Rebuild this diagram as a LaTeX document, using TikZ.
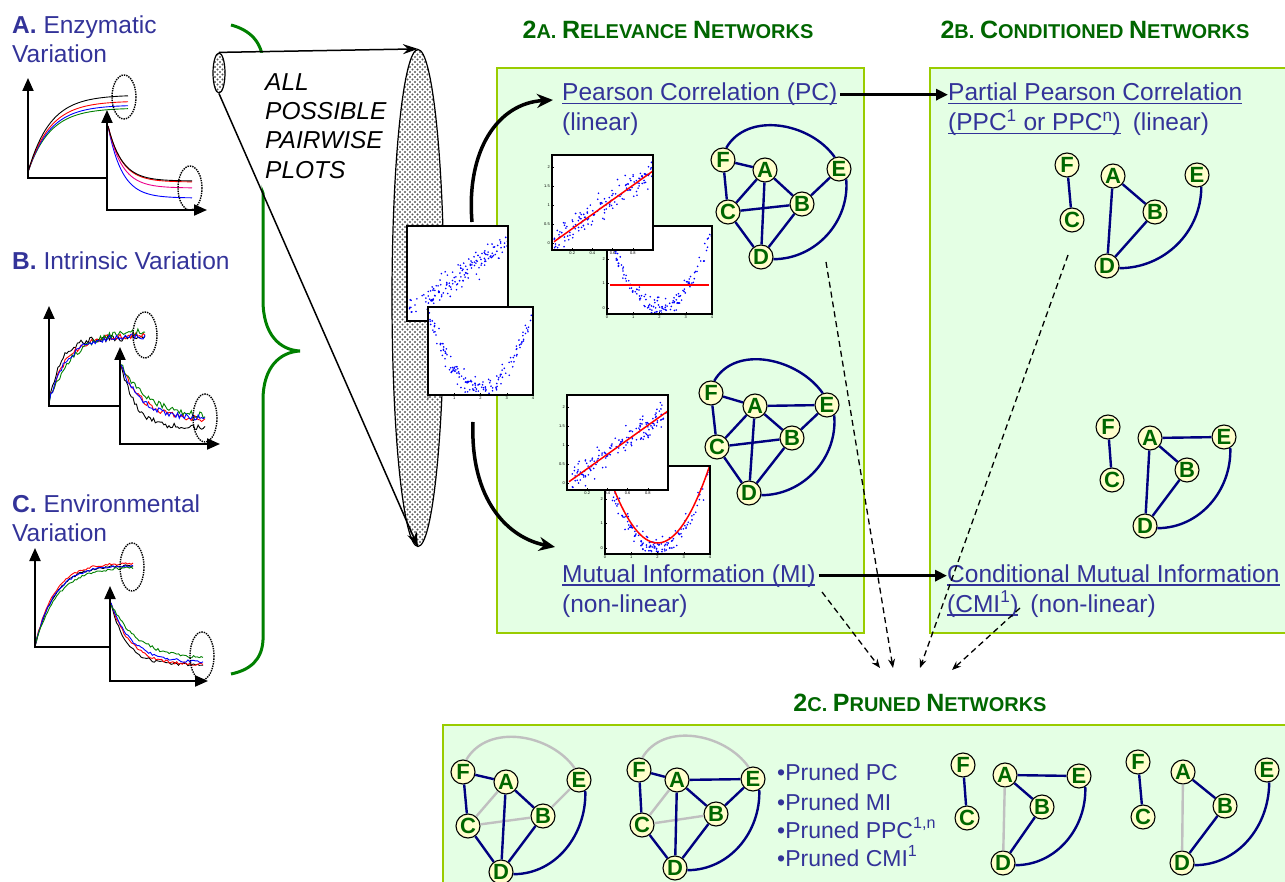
\documentclass[tikz,border=0pt]{standalone}
\usepackage{fontspec}
\setmainfont{Liberation Sans}
\usetikzlibrary{arrows.meta,patterns,shapes.geometric}
\definecolor{txtblue}{RGB}{51,51,153}
\definecolor{ttlgreen}{RGB}{0,102,0}
\definecolor{panelfill}{RGB}{228,255,228}
\definecolor{panelline}{RGB}{153,204,0}
\definecolor{nodefill}{RGB}{255,255,204}
\definecolor{edgeblue}{RGB}{0,0,128}
\definecolor{grayedge}{RGB}{192,192,192}
\definecolor{dotblue}{RGB}{0,0,255}
\definecolor{cgreen}{RGB}{0,128,0}
\pgfdeclarepatternformonly{bigdots}{\pgfqpoint{-1.5pt}{-1.5pt}}{\pgfqpoint{4pt}{4pt}}{\pgfqpoint{5pt}{5pt}}{\pgfpathcircle{\pgfqpoint{0pt}{0pt}}{1.2pt}\pgfpathcircle{\pgfqpoint{2.5pt}{2.5pt}}{1.2pt}\pgfusepath{fill}}
\newcommand\fsz[1]{\fontsize{#1}{#1}\selectfont}
\newsavebox\ulbox
\newcommand\ul[1]{\sbox\ulbox{#1}\rlap{\rule[-3.5pt]{\wd\ulbox}{1.5pt}}\usebox\ulbox}
% scatter plot helpers: #1 x0 #2 y0 (top-left) #3 x1 #4 y1 (bottom-right)
\newcommand\plotbg[4]{\fill[white] (#1,#2) rectangle (#3,#4);}
\newcommand\plotframe[4]{\draw[line width=1.3] (#1,#2) rectangle (#3,#4);}
\newcommand\linpts[4]{\begin{scope}\clip (#1,#2) rectangle (#3,#4);
 \foreach \i in {1,...,150}{\pgfmathsetmacro\spu{0.02+0.98*rnd}\pgfmathsetmacro\spv{(1.9*\spu+0.17*(rand+rand+rand)+0.18)/2.5}\fill[dotblue] ({#1+(#3-#1)*\spu},{#4-(#4-#2)*\spv}) circle[radius=0.9];}\end{scope}}
\newcommand\parpts[4]{\begin{scope}\clip (#1,#2) rectangle (#3,#4);
 \foreach \i in {1,...,150}{\pgfmathsetmacro\spu{rnd}\pgfmathsetmacro\spv{(12.8*(\spu-0.5)*(\spu-0.5)+0.2*(rand+rand+rand)+0.25)/3.6}\fill[dotblue] ({#1+(#3-#1)*\spu},{#4-(#4-#2)*\spv}) circle[radius=0.9];}\end{scope}}
\newcommand\linfit[4]{\draw[red,line width=1.5] ({#1+(#3-#1)*0.02},{#4-(#4-#2)*(1.9*0.02+0.18)/2.5}) -- (#3,{#4-(#4-#2)*(1.9+0.18)/2.5});}
\newcommand\flatfit[4]{\draw[red,line width=1.5] ({#1+3},{#4-(#4-#2)*0.33}) -- ({#3-3},{#4-(#4-#2)*0.33});}
\newcommand\parfit[4]{\begin{scope}\clip (#1,#2) rectangle (#3,#4);\draw[red,line width=1.5] plot[domain=0:1,samples=40] ({#1+(#3-#1)*\x},{#4-(#4-#2)*(12.8*(\x-0.5)*(\x-0.5)+0.45)/3.6});\end{scope}}
\newcommand\linticks[4]{\foreach \tv in {0.2,0.4,0.6,0.8}{\node[tick,anchor=north] (tk) at ({#1+(#3-#1)*\tv},{#4+1.5}) {\tv};\draw[line width=0.4] ({#1+(#3-#1)*\tv},#4) -- ++(0,-2);}
 \foreach \tv in {0,0.5,1,1.5,2}{\node[tick,anchor=east] (tk) at ({#1-1.5},{#4-(#4-#2)*(\tv+0.18)/2.5}) {\tv};\draw[line width=0.4] (#1,{#4-(#4-#2)*(\tv+0.18)/2.5}) -- ++(2,0);}}
\newcommand\parxticks[4]{\foreach \tv in {0,1,2,3,4}{\node[tick,anchor=north] (tk) at ({#1+(#3-#1)*\tv/4},{#4+1.5}) {\tv};\draw[line width=0.4] ({#1+(#3-#1)*\tv/4},#4) -- ++(0,-2);}}
\newcommand\paryticks[4]{\foreach \tv in {0,1,2,3}{\node[tick,anchor=east] (tk) at ({#1-1.5},{#4-(#4-#2)*(\tv+0.25)/3.6}) {\tv};\draw[line width=0.4] (#1,{#4-(#4-#2)*(\tv+0.25)/3.6}) -- ++(2,0);}}
\newcommand\netnodes[2]{\foreach \nn/\px/\py in {#2}{\node[nd] (#1\nn) at (\px,\py) {\nn};}}
\newcommand\netedges[3]{\foreach \ea/\eb in {#3}{\draw[#2] (#1\ea) -- (#1\eb);}}
\begin{document}
\begin{tikzpicture}[x=1pt,y=-1pt,
  nd/.style={circle,draw=black,line width=1.1,fill=nodefill,inner sep=0pt,minimum size=24,text=ttlgreen,font=\bfseries\fsz{22}},
  ed/.style={draw=edgeblue,line width=2.4},
  ged/.style={draw=grayedge,line width=2.4},
  lbl/.style={anchor=base west,inner sep=0pt,text=txtblue,font=\fsz{24.5}},
  ttl/.style={text=ttlgreen,inner sep=0pt,font=\bfseries\fsz{25}},
  axis/.style={line width=2,-{Triangle[length=13pt,width=11pt]}},
  axisn/.style={line width=2},
  dell/.style={densely dotted,line width=1.4},
  panel/.style={draw=panelline,fill=panelfill,line width=2},
  thickarr/.style={line width=3,-{Triangle[length=12pt,width=11pt]}},
  curvarr/.style={line width=3.5,-{Stealth[length=16pt,width=14pt]}},
  conearr/.style={line width=1.5,-{Stealth[length=15pt,width=10pt]}},
  dasharr/.style={dash pattern=on 6pt off 4pt,line width=1.3,-{Stealth[length=9pt,width=7pt]}},
  tick/.style={font=\fsz{4},inner sep=0.5pt},
  dotfill/.style={preaction={fill=white},pattern=bigdots,pattern color=black!65},
  crv/.style={line width=0.9}]
\useasboundingbox (0,0) rectangle (1285,882);
\clip (0,0) rectangle (1285,882);
\pgfmathsetseed{7}

% ---------- left column ----------
\node[lbl] (labA) at (12,34) {\textbf{A.} Enzymatic};
\node[lbl] (labA2) at (12,63) {Variation};
\node[lbl] (labB) at (12,270) {\textbf{B.} Intrinsic Variation};
\node[lbl] (labC) at (12,512) {\textbf{C.} Environmental};
\node[lbl] (labC2) at (12,541) {Variation};

% A
\foreach \c/\a in {cgreen/108,blue/105,red/101,black/95}{\draw[\c,crv] plot[domain=28:128,samples=40] (\x,{172-(172-\a)*(1-exp(-(\x-28)/22))});}
\draw[axis] (28,179) -- (28,78);
\draw[axisn] (27,178) -- (107,178);
\draw[dell] (124,97) ellipse[x radius=12,y radius=22];
\foreach \c/\a in {blue/198,magenta/188,red/182,black/181}{\draw[\c,crv] plot[domain=108:192,samples=40] (\x,{\a-(\a-126)*exp(-(\x-108)/14)});}
\draw[axis] (107,211) -- (107,110);
\draw[axis] (106,210) -- (207,210);
\draw[dell] (190,188) ellipse[x radius=12,y radius=22];

% B
\foreach \c/\t/\e in {black/12/338,red/18/335,cgreen/24/330,blue/18/336}{\draw[\c,crv] plot[domain=49:145,samples=55] (\x,{402-(402-\e)*(1-exp(-(\x-49)/\t))+3*rand});}
\draw[axis] (49,407) -- (49,306);
\draw[axisn] (48,406) -- (120,406);
\draw[dell] (145,335) ellipse[x radius=12,y radius=23];
\foreach \c/\t/\e in {black/15/428,red/22/420,cgreen/28/418,blue/20/419}{\draw[\c,crv] plot[domain=121:205,samples=50] (\x,{\e-(\e-365)*exp(-(\x-121)/\t)+3*rand});}
\draw[axis] (120,445) -- (120,347);
\draw[axis] (119,444) -- (220,444);
\draw[dell] (205,418) ellipse[x radius=12,y radius=24];

% C
\foreach \c/\t/\e in {black/20/565,red/19/563,blue/20/565,cgreen/22/567}{\draw[\c,crv] plot[domain=35:133,samples=55] (\x,{646-(646-\e)*(1-exp(-(\x-35)/\t))+1.2*rand});}
\draw[axis] (35,648) -- (35,548);
\draw[axisn] (34,647) -- (110,647);
\draw[dell] (132,567) ellipse[x radius=12,y radius=24];
\foreach \c/\t/\e in {black/16/665,red/20/665,blue/22/663,cgreen/28/660}{\draw[\c,crv] plot[domain=111:203,samples=50] (\x,{\e-(\e-604)*exp(-(\x-111)/\t)+1.5*rand});}
\draw[axis] (110,682) -- (110,586);
\draw[axis] (109,681) -- (208,681);
\draw[dell] (202,656) ellipse[x radius=12,y radius=24];

% brace
\draw[cgreen,line width=3] (231,25) .. controls (250,30) and (262,42) .. (263,62) -- (263,300)
  .. controls (263,335) and (280,350) .. (300,351) .. controls (280,352) and (263,367) .. (263,400)
  -- (263,640) .. controls (262,660) and (250,670) .. (231,674);

% cone
\fill[white] (219,53) -- (418,53) -- (418,546) -- (221,92) -- cycle;
\node[ellipse,draw=black,line width=1.2,dotfill,minimum width=52,minimum height=497,inner sep=0pt] (bigell) at (418,298) {};
\node[ellipse,draw=black,line width=1.2,dotfill,minimum width=12,minimum height=40,inner sep=0pt] (smallell) at (219,73) {};
\draw[conearr] (smallell.north) -- (bigell.north);
\draw[conearr] (smallell.south) -- (bigell.south);
\node[anchor=base west,inner sep=0pt,font=\itshape\fsz{24.5}] (all1) at (265,91) {ALL};
\node[anchor=base west,inner sep=0pt,font=\itshape\fsz{24.5}] (all2) at (265,120) {POSSIBLE};
\node[anchor=base west,inner sep=0pt,font=\itshape\fsz{24.5}] (all3) at (265,149) {PAIRWISE};
\node[anchor=base west,inner sep=0pt,font=\itshape\fsz{24.5}] (all4) at (265,179) {PLOTS};

% panels
\draw[panel] (497,68) rectangle (864,633);
\draw[panel] (930,68) rectangle (1295,633);
\draw[panel] (443,725) rectangle (1295,895);

% pairwise plots near cone
\plotbg{407}{226}{508}{321}\linpts{407}{226}{508}{321}\plotframe{407}{226}{508}{321}
\plotbg{428}{307}{533}{395}\parpts{428}{307}{533}{395}\parxticks{428}{307}{533}{395}\plotframe{428}{307}{533}{395}

% curved arrows
\coordinate (cAs) at (472,222);
\coordinate (cAe) at (553,100);
\coordinate (cBs) at (473,422);
\coordinate (cBe) at (555,547);
\draw[curvarr] (cAs) .. controls (466,150) and (498,103) .. (cAe);
\draw[curvarr] (cBs) .. controls (470,500) and (508,538) .. (cBe);

% PC plots
\plotbg{607}{226}{712}{314}\parpts{607}{226}{712}{314}\flatfit{607}{226}{712}{314}\parxticks{607}{226}{712}{314}\paryticks{607}{226}{712}{314}\plotframe{607}{226}{712}{314}
\plotbg{552}{155}{653}{250}\linpts{552}{155}{653}{250}\linfit{552}{155}{653}{250}\linticks{552}{155}{653}{250}\plotframe{552}{155}{653}{250}
% MI plots
\plotbg{605}{466}{710}{554}\parpts{605}{466}{710}{554}\parfit{605}{466}{710}{554}\parxticks{605}{466}{710}{554}\paryticks{605}{466}{710}{554}\plotframe{605}{466}{710}{554}
\plotbg{567}{395}{668}{490}\linpts{567}{395}{668}{490}\linfit{567}{395}{668}{490}\linticks{567}{395}{668}{490}\plotframe{567}{395}{668}{490}

% titles
\node[ttl] (t2a) at (668,30) {2\fsz{20}A. \fsz{25}R\fsz{20}ELEVANCE \fsz{25}N\fsz{20}ETWORKS};
\node[ttl] (t2b) at (1095,30) {2\fsz{20}B. \fsz{25}C\fsz{20}ONDITIONED \fsz{25}N\fsz{20}ETWORKS};
\node[ttl] (t2c) at (920,703) {2\fsz{20}C. \fsz{25}P\fsz{20}RUNED \fsz{25}N\fsz{20}ETWORKS};

% texts
\node[lbl] (pcTxt) at (562,101) {\ul{Pearson Correlation (PC)}};
\node[lbl] (pcLin) at (562,131) {(linear)};
\node[lbl] (miTxt) at (562,582) {\ul{Mutual Information (MI)}};
\node[lbl] (miLin) at (562,612) {(non-linear)};
\node[lbl] (ppcTxt) at (948,101) {\ul{Partial Pearson Correlation}};
\node[lbl] (ppcLin) at (948,131) {\ul{(PPC\textsuperscript{1} or PPC\textsuperscript{n})}\hspace{12pt}(linear)};
\node[lbl] (cmiTxt) at (947,582) {\ul{Conditional Mutual Information}};
\node[lbl] (cmiLin) at (947,612) {\ul{(CMI\textsuperscript{1})}\hspace{12pt}(non-linear)};
\draw[thickarr,shorten <=3pt] (pcTxt.east) -- (pcTxt.east -| ppcTxt.west);
\draw[thickarr,shorten <=3pt] (miTxt.east) -- (miTxt.east -| cmiTxt.west);

\node[lbl,font=\fsz{23}] (bl1) at (777,780) {\textbullet Pruned PC};
\node[lbl,font=\fsz{23}] (bl2) at (777,810) {\textbullet Pruned MI};
\node[lbl,font=\fsz{23}] (bl3) at (777,838) {\textbullet Pruned PPC\textsuperscript{1,n}};
\node[lbl,font=\fsz{23}] (bl4) at (777,866) {\textbullet Pruned CMI\textsuperscript{1}};

% networks
\netnodes{pc}{F/723/160,A/765/170,E/839/169,C/728/212,B/802/204,D/761/257}
\netedges{pc}{ed}{F/A,F/C,A/C,A/B,A/D,C/B,C/D,B/D,B/E}
\draw[ed] (pcF.75) to[out=60,in=125] (pcE.110);
\draw[ed] (pcE.-55) to[out=-85,in=0] (pcD.-10);

\netnodes{mi}{F/711/393,A/755/406,E/827/405,C/717/447,B/792/438,D/749/493}
\netedges{mi}{ed}{F/A,F/C,A/E,A/C,A/B,A/D,C/B,C/D,B/D,B/E}
\draw[ed] (miF.75) to[out=60,in=125] (miE.110);
\draw[ed] (miE.-55) to[out=-85,in=0] (miD.-10);

\netnodes{pp}{F/1067/165,C/1072/220,A/1113/176,B/1155/212,E/1197/175,D/1107/266}
\netedges{pp}{ed}{F/C,A/B,A/D,B/D}
\draw[ed] (ppE.-70) to[out=-90,in=0] (ppD.-10);

\netnodes{cm}{F/1108/427,C/1112/480,A/1150/438,E/1224/437,B/1187/470,D/1145/526}
\netedges{cm}{ed}{F/C,A/E,A/B,A/D,B/D}
\draw[ed] (cmE.-60) to[out=-88,in=0] (cmD.-10);

\netnodes{qa}{F/463/772,A/506/782,E/579/780,C/468/826,B/543/816,D/501/872}
\netedges{qa}{ged}{A/C,C/B,B/E}
\draw[ged] (qaF.75) to[out=60,in=125] (qaE.110);
\netedges{qa}{ed}{F/A,F/C,A/B,A/D,C/D,B/D}
\draw[ed] (qaE.-60) to[out=-88,in=0] (qaD.-10);

\netnodes{qb}{F/639/770,A/677/780,E/753/779,C/642/825,B/716/814,D/675/868}
\netedges{qb}{ged}{A/C,C/B}
\draw[ged] (qbF.75) to[out=60,in=125] (qbE.110);
\netedges{qb}{ed}{F/A,F/C,A/E,A/B,A/D,C/D,B/D,B/E}
\draw[ed] (qbE.-60) to[out=-88,in=0] (qbD.-10);

\netnodes{qc}{F/963/765,C/967/818,A/1005/775,E/1079/776,B/1042/807,D/1003/863}
\netedges{qc}{ged}{A/D}
\netedges{qc}{ed}{F/C,A/E,A/B,B/D}
\draw[ed] (qcE.-60) to[out=-88,in=0] (qcD.-10);

\netnodes{qd}{F/1138/762,C/1143/817,A/1183/772,E/1267/770,B/1225/806,D/1182/863}
\netedges{qd}{ged}{A/D}
\netedges{qd}{ed}{F/C,A/B,B/D}
\draw[ed] (qdE.-80) to[out=-90,in=0] (qdD.-10);

% dashed arrows
\coordinate (d1s) at (826,262); \coordinate (d1e) at (893,668);
\coordinate (d2s) at (822,592); \coordinate (d2e) at (880,668);
\coordinate (d3s) at (1068,255); \coordinate (d3e) at (920,668);
\coordinate (d4s) at (1020,608); \coordinate (d4e) at (952,670);
\draw[dasharr] (d1s) -- (d1e);
\draw[dasharr] (d2s) -- (d2e);
\draw[dasharr] (d3s) -- (d3e);
\draw[dasharr] (d4s) -- (d4e);
\end{tikzpicture}
\end{document}
